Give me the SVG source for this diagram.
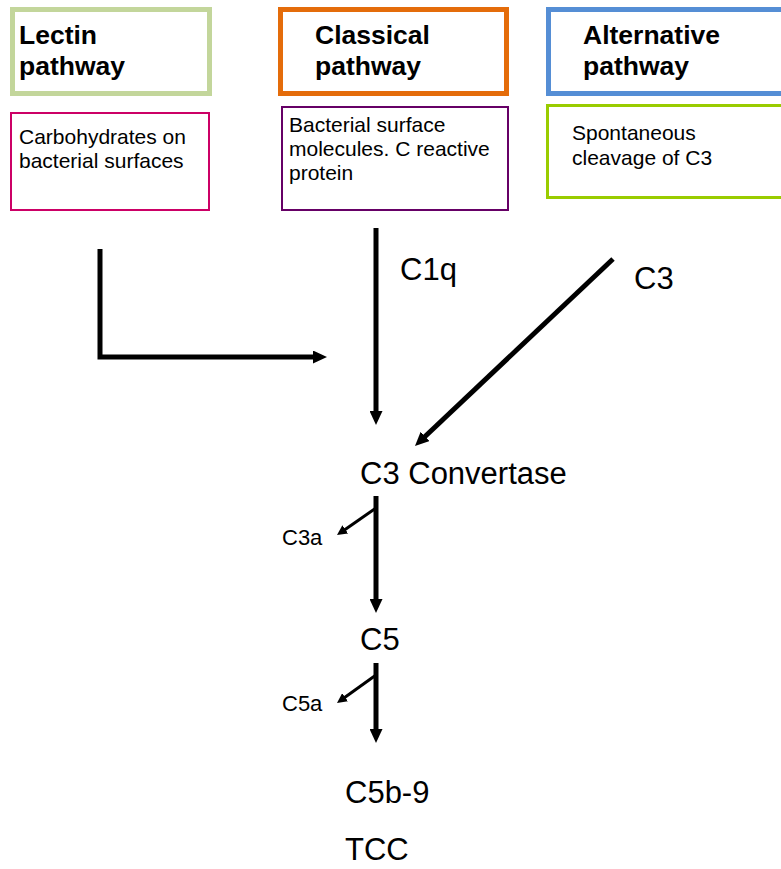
<svg xmlns="http://www.w3.org/2000/svg" width="781" height="869" viewBox="0 0 781 869">
<style>
text{font-family:"Liberation Sans",Arial,sans-serif;fill:#000}
.h{font-size:26.5px;font-weight:bold}
.s{font-size:21px}
.l{font-size:31px}
.m{font-size:22px}
.box{fill:#fff}
.c{fill:none;stroke:#000;stroke-width:5;stroke-linejoin:miter}
.t{fill:none;stroke:#000;stroke-width:3}
</style>
<defs>
<marker id="ah" markerUnits="userSpaceOnUse" markerWidth="14" markerHeight="13" refX="2" refY="6.5" orient="auto"><path d="M0,0 L14,6.5 L0,13 z" fill="#000"/></marker>
<marker id="as" markerUnits="userSpaceOnUse" markerWidth="10" markerHeight="10" refX="1" refY="5" orient="auto"><path d="M0,0 L10,5 L0,10 z" fill="#000"/></marker>
</defs>
<rect width="781" height="869" fill="#fff"/>
<g id="lectin">
<rect class="box" x="12.5" y="9.5" width="197" height="84" stroke="#C3D69B" stroke-width="5"/>
<text class="h" x="19" y="44">Lectin</text>
<text class="h" x="19" y="75">pathway</text>
</g>
<g id="classical">
<rect class="box" x="280.5" y="9.5" width="226" height="84" stroke="#E46C0A" stroke-width="5"/>
<text class="h" x="315" y="44">Classical</text>
<text class="h" x="315" y="75">pathway</text>
</g>
<g id="alternative">
<rect class="box" x="548.5" y="9.5" width="250" height="84" stroke="#558ED5" stroke-width="5"/>
<text class="h" x="583" y="44">Alternative</text>
<text class="h" x="583" y="75">pathway</text>
</g>
<g id="lectin-trigger">
<rect class="box" x="11" y="113" width="198" height="97" stroke="#CC0066" stroke-width="2"/>
<text class="s" x="19" y="144">Carbohydrates on</text>
<text class="s" x="19" y="168">bacterial surfaces</text>
</g>
<g id="classical-trigger">
<rect class="box" x="282" y="107" width="226" height="103" stroke="#660066" stroke-width="2"/>
<text class="s" x="289" y="132">Bacterial surface</text>
<text class="s" x="289" y="156">molecules. C reactive</text>
<text class="s" x="289" y="180">protein</text>
</g>
<g id="alternative-trigger">
<rect class="box" x="547.5" y="105.5" width="250" height="92" stroke="#99CC00" stroke-width="3"/>
<text class="s" x="572" y="140">Spontaneous</text>
<text class="s" x="572" y="165">cleavage of C3</text>
</g>
<g id="connectors">
<path class="c" d="M100,249 V357 H315" marker-end="url(#ah)"/>
<path class="c" d="M376,228 V413" marker-end="url(#ah)"/>
<path class="c" d="M613,259 L423.7,437.8" marker-end="url(#ah)"/>
<path class="c" d="M376,496 V601" marker-end="url(#ah)"/>
<path class="t" d="M376,508 L344.4,529.9" marker-end="url(#as)"/>
<path class="c" d="M376,663 V731" marker-end="url(#ah)"/>
<path class="t" d="M376,675 L344.3,697.8" marker-end="url(#as)"/>
</g>
<g id="c1q"><text class="l" x="400" y="280">C1q</text></g>
<g id="c3"><text class="l" x="634" y="289">C3</text></g>
<g id="c3-convertase"><text class="l" x="360" y="484">C3 Convertase</text></g>
<g id="c3a"><text class="m" x="282" y="545">C3a</text></g>
<g id="c5"><text class="l" x="360" y="650">C5</text></g>
<g id="c5a"><text class="m" x="282" y="711">C5a</text></g>
<g id="c5b9"><text class="l" x="345" y="803">C5b-9</text></g>
<g id="tcc"><text class="l" x="345" y="860">TCC</text></g>
</svg>
